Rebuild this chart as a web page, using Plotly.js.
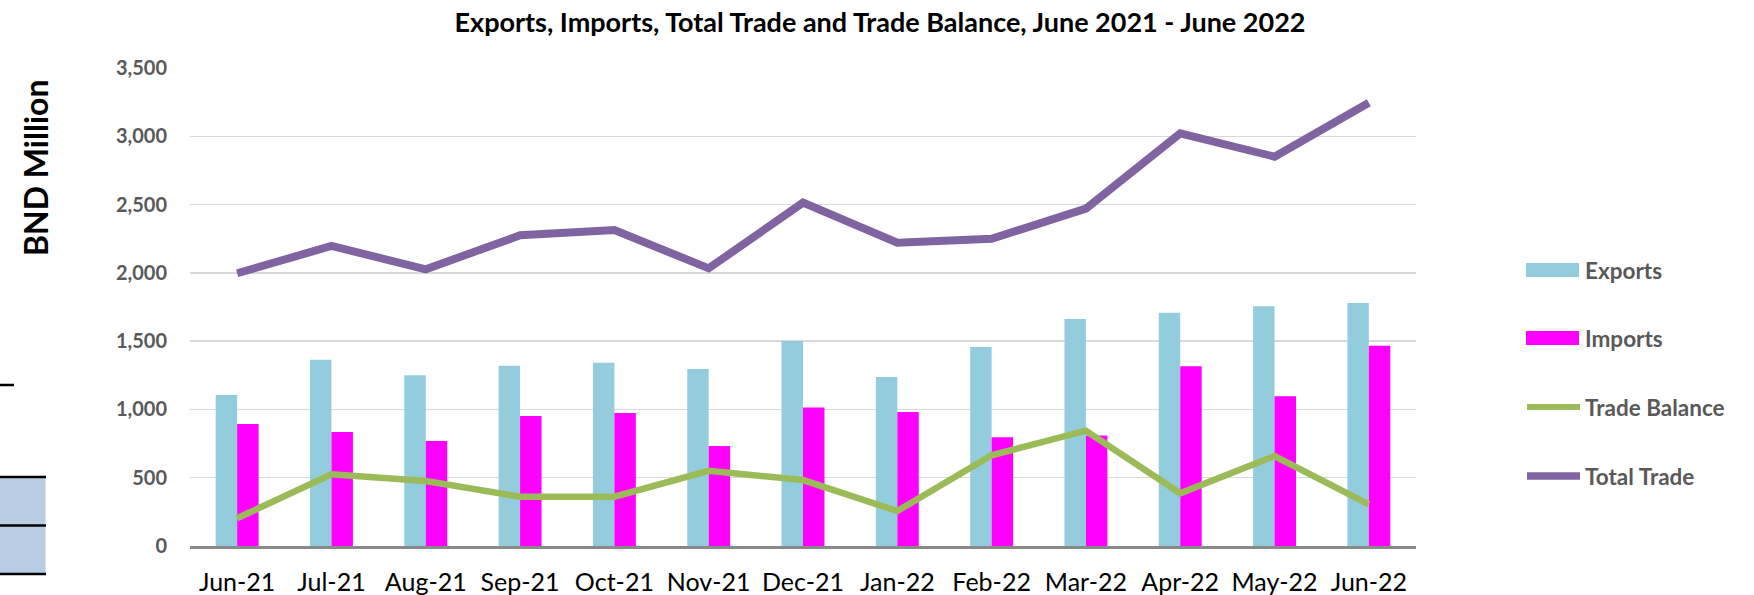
<!DOCTYPE html>
<html><head><meta charset="utf-8">
<script src="https://cdn.plot.ly/plotly-3.0.1.min.js"></script>
<style>html,body{margin:0;padding:0;background:#fff;}#chart{width:1754px;height:595px;}</style>
</head><body><div id="chart"></div>
<script>
// ---- data ----
const months = ['Jun-21','Jul-21','Aug-21','Sep-21','Oct-21','Nov-21','Dec-21','Jan-22','Feb-22','Mar-22','Apr-22','May-22','Jun-22'];
const exportsVals = [1106,1364,1250,1320,1342,1296,1501,1237,1457,1662,1708,1755,1779];
const importsVals = [893,835,769,952,974,732,1015,981,796,810,1316,1096,1467];
const tradeBalance = [203,525,476,361,361,551,483,256,664,844,386,659,305];
const totalTrade = [1997,2197,2026,2275,2314,2033,2514,2221,2250,2470,3022,2851,3246];
const yTicks = [0,500,1000,1500,2000,2500,3000,3500];
const seriesNames = ['Exports','Imports','Trade Balance','Total Trade'];
const seriesColors = ['#93CDDD','#FF00FF','#9BBB59','#8064A2'];

// ---- layout geometry ----
const W = 1754, H = 595;
const M = {l:190, r:338, t:68, b:49};
const PW = W - M.l - M.r, PH = H - M.t - M.b;
const px = p => (p - M.l) / PW;
const py = p => (H - M.b - p) / PH;

const FONT = 'Lato, "Open Sans", sans-serif';

const traces = [
  {type:'bar', name:seriesNames[0], x:months, y:exportsVals, marker:{color:seriesColors[0]}, showlegend:false},
  {type:'bar', name:seriesNames[1], x:months, y:importsVals, marker:{color:seriesColors[1]}, showlegend:false},
  {type:'scatter', mode:'lines', name:seriesNames[2], x:months, y:tradeBalance, line:{color:seriesColors[2], width:6.5}, showlegend:false},
  {type:'scatter', mode:'lines', name:seriesNames[3], x:months, y:totalTrade, line:{color:seriesColors[3], width:8}, showlegend:false}
];

// custom legend (swatches + text)
const legendY = [270, 338, 407, 476];
const shapes = [];
const annotations = [];
seriesNames.forEach((n, i) => {
  if (i < 2) {
    shapes.push({type:'rect', xref:'paper', yref:'paper', x0:px(1526), x1:px(1579), y0:py(legendY[i]-7), y1:py(legendY[i]+7), fillcolor:seriesColors[i], line:{width:0}});
  } else {
    shapes.push({type:'line', xref:'paper', yref:'paper', x0:px(1527), x1:px(1580), y0:py(legendY[i]), y1:py(legendY[i]), line:{color:seriesColors[i], width: i===2?6:7.5}});
  }
  annotations.push({xref:'paper', yref:'paper', x:px(1583), y:py(legendY[i]), xanchor:'left', yanchor:'middle', showarrow:false, text:n, font:{family:FONT, size:22.5, color:'#595959', weight:'bold'}});
});

// y-axis title
annotations.push({xref:'paper', yref:'paper', x:px(35), y:py(168), xanchor:'center', yanchor:'middle', textangle:-90, showarrow:false, text:'BND Million', font:{family:FONT, size:32, color:'#000', weight:'bold'}});

// page artefacts at the left edge (cropped document table)
shapes.push({type:'line', xref:'paper', yref:'paper', x0:px(0), x1:px(14), y0:py(385), y1:py(385), line:{color:'#000', width:2.5}});
shapes.push({type:'rect', xref:'paper', yref:'paper', x0:px(0), x1:px(45.5), y0:py(574), y1:py(477), fillcolor:'#B8CCE4', line:{width:0}, layer:'below'});
[477, 525.5, 574].forEach(v => shapes.push({type:'line', xref:'paper', yref:'paper', x0:px(0), x1:px(46), y0:py(v), y1:py(v), line:{color:'#000', width:2.7}}));

const layout = {
  width:W, height:H,
  margin:M,
  paper_bgcolor:'#fff', plot_bgcolor:'#fff',
  showlegend:false,
  barmode:'group', bargap:0.545, bargroupgap:0,
  title:{text:'Exports, Imports, Total Trade and Trade Balance, June 2021 - June 2022', font:{family:FONT, size:27, color:'#000', weight:'bold'}, xref:'container', yref:'container', x:880/W, xanchor:'center', y:1-23/H, yanchor:'middle'},
  xaxis:{type:'category', range:[-0.5,12.5], showgrid:false, showline:true, linecolor:'#898989', linewidth:2.5, ticks:'', tickfont:{family:FONT, size:25, color:'#000'}, ticklabelstandoff:12, fixedrange:true},
  yaxis:{range:[0,3500], tickvals:yTicks, ticktext:yTicks.map(v=>v.toLocaleString('en-US')), showgrid:true, gridcolor:'#D9D9D9', gridwidth:1.5, zeroline:false, showline:false, ticks:'', ticklabelstandoff:22, tickfont:{family:FONT, size:20, color:'#595959', weight:'bold'}},
  shapes:shapes,
  annotations:annotations
};

Plotly.newPlot('chart', traces, layout, {displayModeBar:false, staticPlot:true});
</script>
</body></html>
